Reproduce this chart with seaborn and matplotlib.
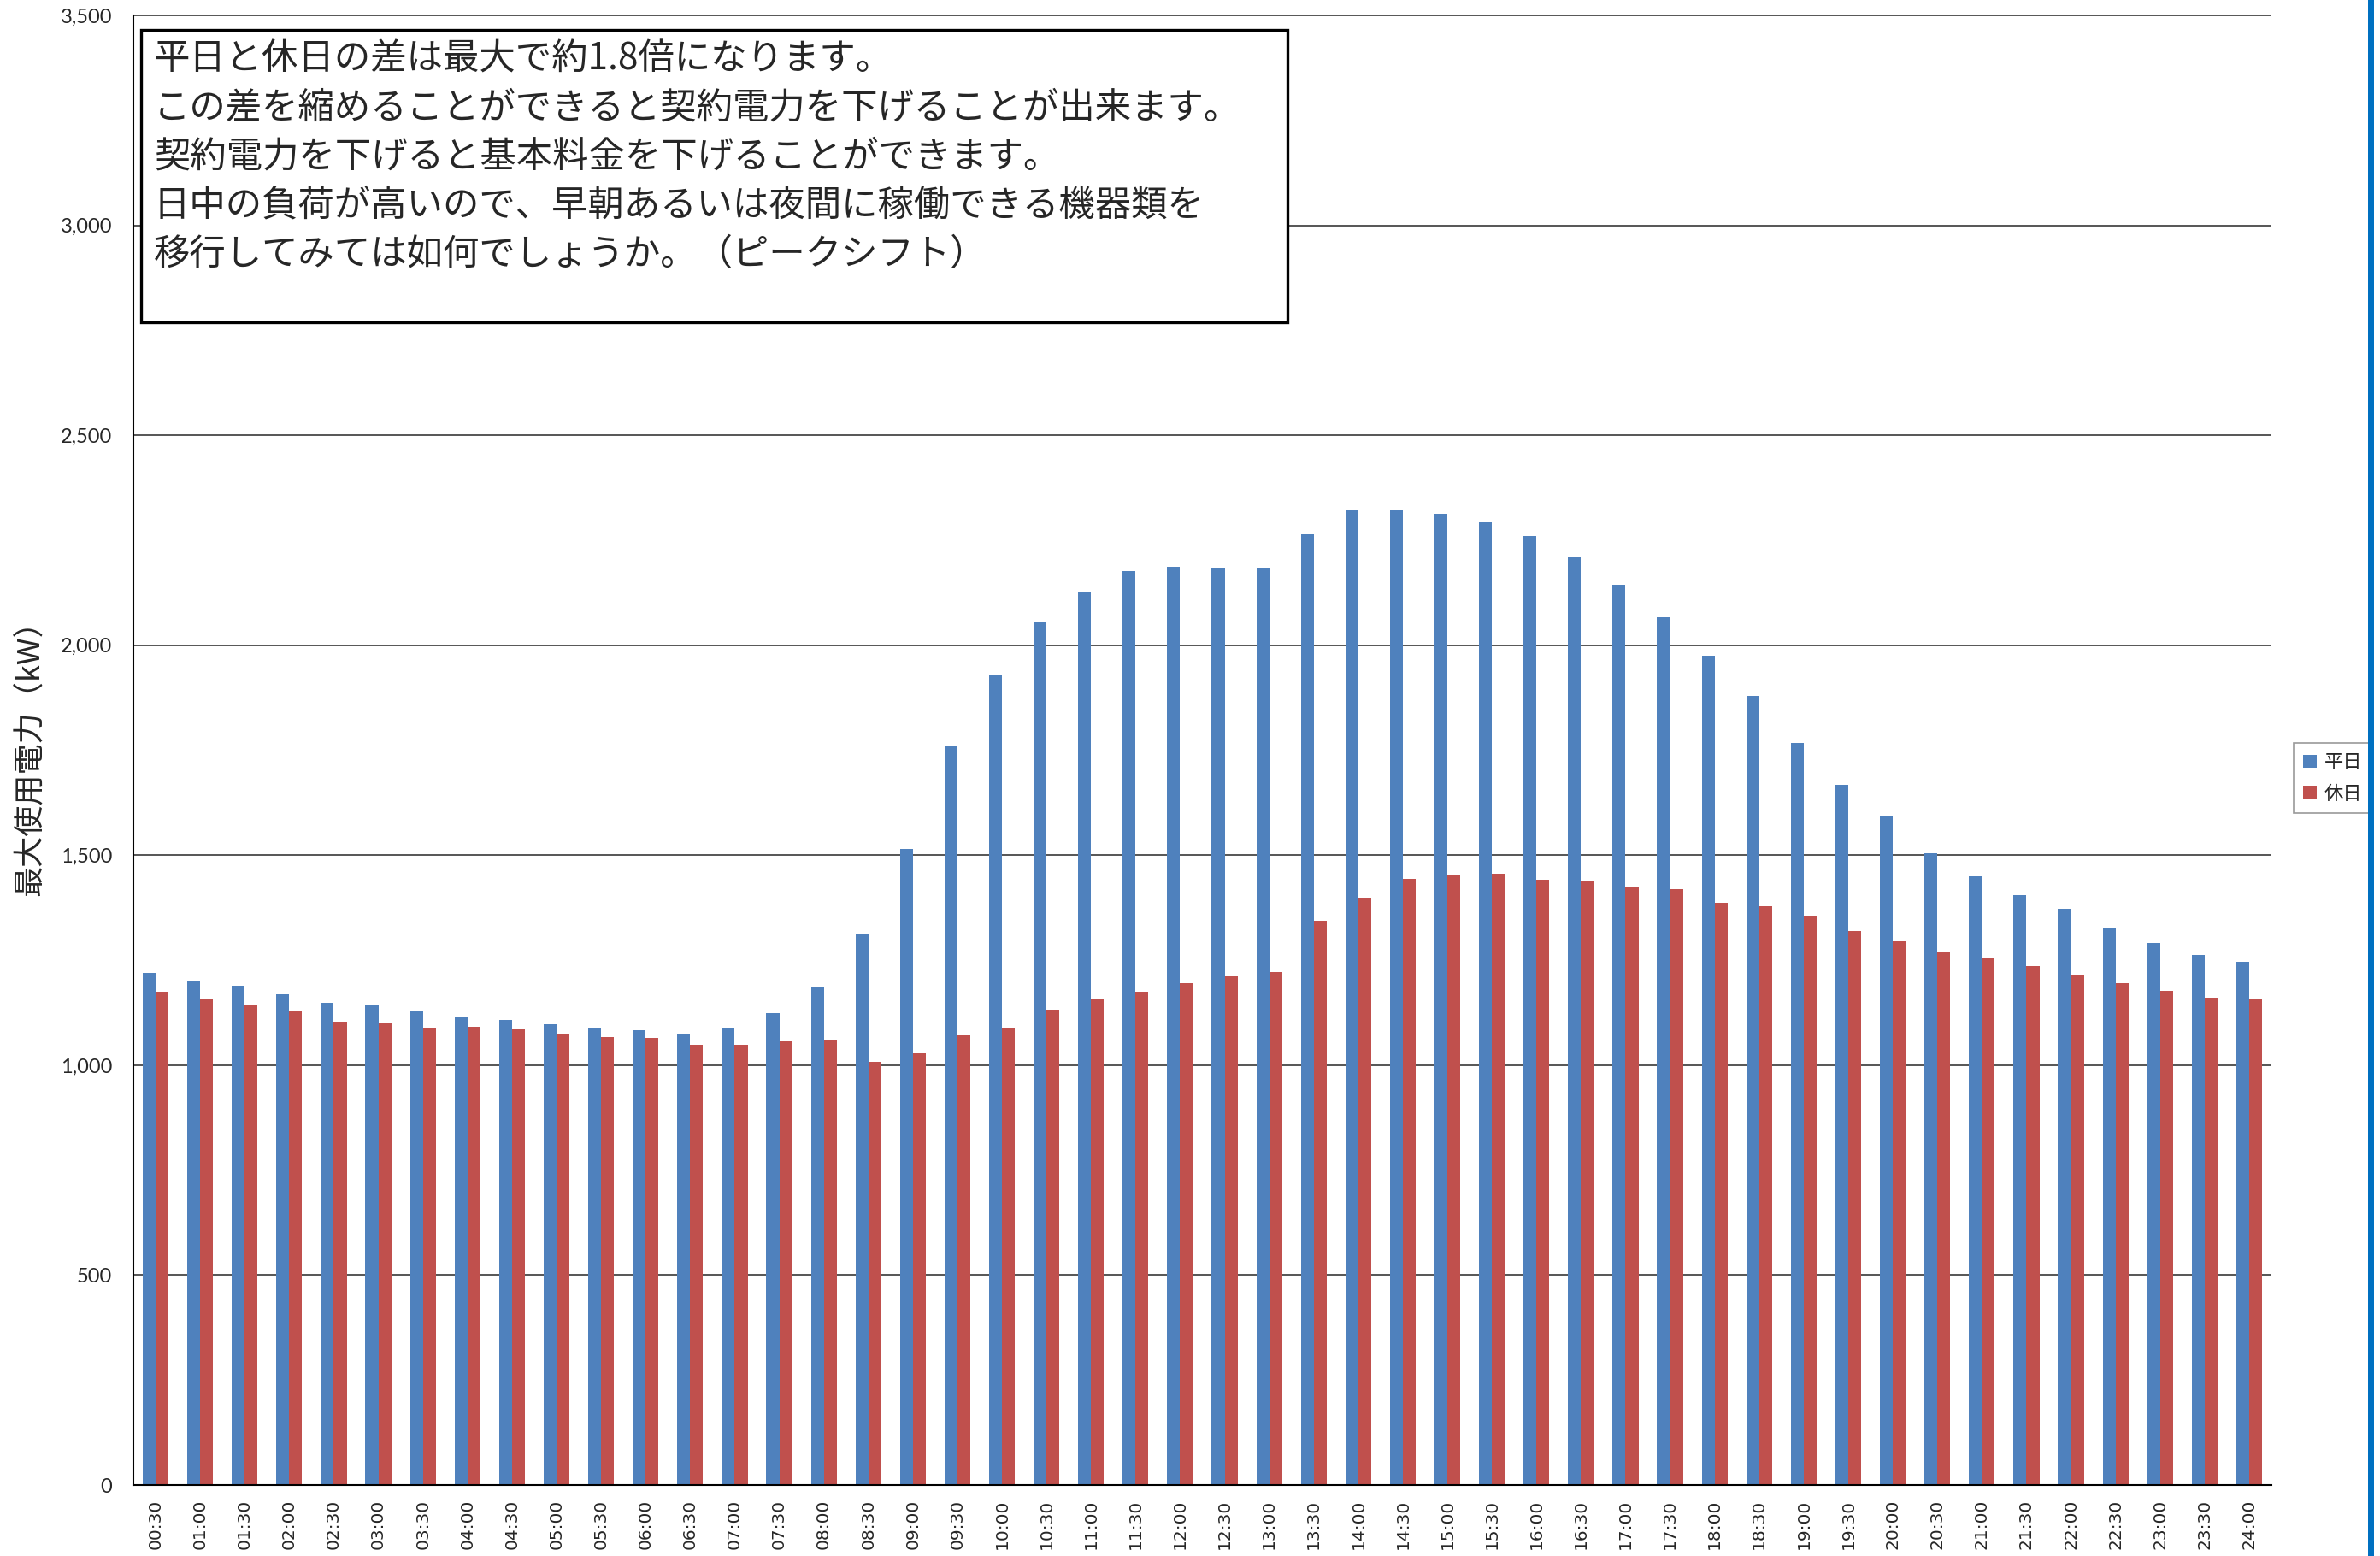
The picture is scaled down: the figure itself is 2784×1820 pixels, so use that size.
import matplotlib
matplotlib.use("Agg")
import matplotlib.pyplot as plt
from matplotlib.patches import Rectangle
from matplotlib.ticker import FuncFormatter, MultipleLocator
import seaborn as sns
import pandas as pd
import numpy as np

# time slots (30 min)
times = ["00:30", "01:00", "01:30", "02:00", "02:30", "03:00", "03:30", "04:00",
         "04:30", "05:00", "05:30", "06:00", "06:30", "07:00", "07:30", "08:00",
         "08:30", "09:00", "09:30", "10:00", "10:30", "11:00", "11:30", "12:00",
         "12:30", "13:00", "13:30", "14:00", "14:30", "15:00", "15:30", "16:00",
         "16:30", "17:00", "17:30", "18:00", "18:30", "19:00", "19:30", "20:00",
         "20:30", "21:00", "21:30", "22:00", "22:30", "23:00", "23:30", "24:00"]

# max demand on weekdays (kW)
weekday = [1220, 1201, 1189, 1168, 1149, 1143, 1130, 1115,
           1107, 1097, 1090, 1083, 1076, 1088, 1124, 1186,
           1313, 1515, 1759, 1929, 2055, 2125, 2176, 2187,
           2185, 2185, 2265, 2323, 2321, 2312, 2294, 2260,
           2210, 2144, 2067, 1976, 1880, 1768, 1668, 1595,
           1504, 1450, 1405, 1372, 1326, 1291, 1263, 1246]

# max demand on holidays (kW)
holiday = [1175, 1158, 1145, 1127, 1104, 1100, 1090, 1092,
           1085, 1076, 1067, 1064, 1048, 1048, 1056, 1061,
           1007, 1028, 1071, 1090, 1133, 1157, 1175, 1195,
           1212, 1222, 1343, 1399, 1444, 1451, 1455, 1441,
           1438, 1426, 1420, 1387, 1378, 1356, 1319, 1295,
           1269, 1254, 1235, 1215, 1195, 1177, 1160, 1158]

series_names = ["平日", "休日"]
colors = ["#4F81BD", "#C0504D"]

note_lines = [
    "平日と休日の差は最大で約1.8倍になります。",
    "この差を縮めることができると契約電力を下げることが出来ます。",
    "契約電力を下げると基本料金を下げることができます。",
    "日中の負荷が高いので、早朝あるいは夜間に稼働できる機器類を",
    "移行してみては如何でしょうか。（ピークシフト）",
]

df = pd.DataFrame({
    "time": times * 2,
    "kw": weekday + holiday,
    "kind": [series_names[0]] * len(times) + [series_names[1]] * len(times),
})

sns.set_style("white")
plt.rcParams["font.family"] = ["Noto Sans CJK JP", "DejaVu Sans"]

W, H = 2784, 1820
fig = plt.figure(figsize=(W / 100, H / 100), dpi=100)
ax = fig.add_axes([156 / W, 1 - 1737 / H, (2657 - 156) / W, (1737 - 18) / H])

sns.barplot(data=df, x="time", y="kw", hue="kind", hue_order=series_names,
            palette=colors, width=0.58, linewidth=0, saturation=1,
            errorbar=None, ax=ax)

ax.set_ylim(0, 3500)
ax.set_xlim(-0.5, len(times) - 0.5)
ax.yaxis.set_major_locator(MultipleLocator(500))
ax.yaxis.set_major_formatter(FuncFormatter(lambda v, p: f"{int(v):,}"))
ax.grid(axis="y", color="#555555", linewidth=1.4)
ax.set_axisbelow(True)

for s in ["top", "right"]:
    ax.spines[s].set_visible(False)
for s in ["left", "bottom"]:
    ax.spines[s].set_color("black")
    ax.spines[s].set_linewidth(1.5)

# ticks: labels at centres, tick marks at category boundaries
ax.set_xticks(range(len(times)))
ax.set_xticklabels(times, rotation=90, fontsize=14.5, family="DejaVu Sans")
ax.set_xticks(np.arange(-0.5, len(times), 1), minor=True)
ax.tick_params(axis="x", which="major", length=0, pad=12)
ax.tick_params(axis="x", which="minor", length=9, width=1.2, color="#808080")
ax.tick_params(axis="y", which="major", length=8, width=1.2, color="#808080",
               pad=10, labelsize=17)
for lab in ax.get_yticklabels():
    lab.set_family("Lato")

ax.set_xlabel("")
ax.set_ylabel("最大使用電力（kW）", fontsize=26, labelpad=12)

leg = ax.legend(loc="center left", bbox_to_anchor=(2672 / W, 1 - 910 / H),
                bbox_transform=fig.transFigure, frameon=True, fancybox=False,
                fontsize=16, handlelength=0.7, handleheight=0.7,
                handletextpad=0.4, labelspacing=0.6, borderpad=0.5)
leg.get_frame().set_edgecolor("#808080")
leg.get_frame().set_linewidth(1.2)

# note box
fig.add_artist(Rectangle((165 / W, 1 - 377 / H), (1506 - 165) / W, (377 - 35) / H,
                         transform=fig.transFigure, facecolor="white",
                         edgecolor="black", linewidth=2.4, zorder=5))
for i, line in enumerate(note_lines):
    fig.text(180 / W, 1 - (70 + 57 * i) / H, line, fontsize=30.5,
             va="center", ha="left", zorder=6)

# blue edge bar at the right
fig.add_artist(Rectangle((2770 / W, 0), 7 / W, 1, transform=fig.transFigure,
                         facecolor="#0070C0", edgecolor="none"))

fig.savefig("out.png", dpi=100)
